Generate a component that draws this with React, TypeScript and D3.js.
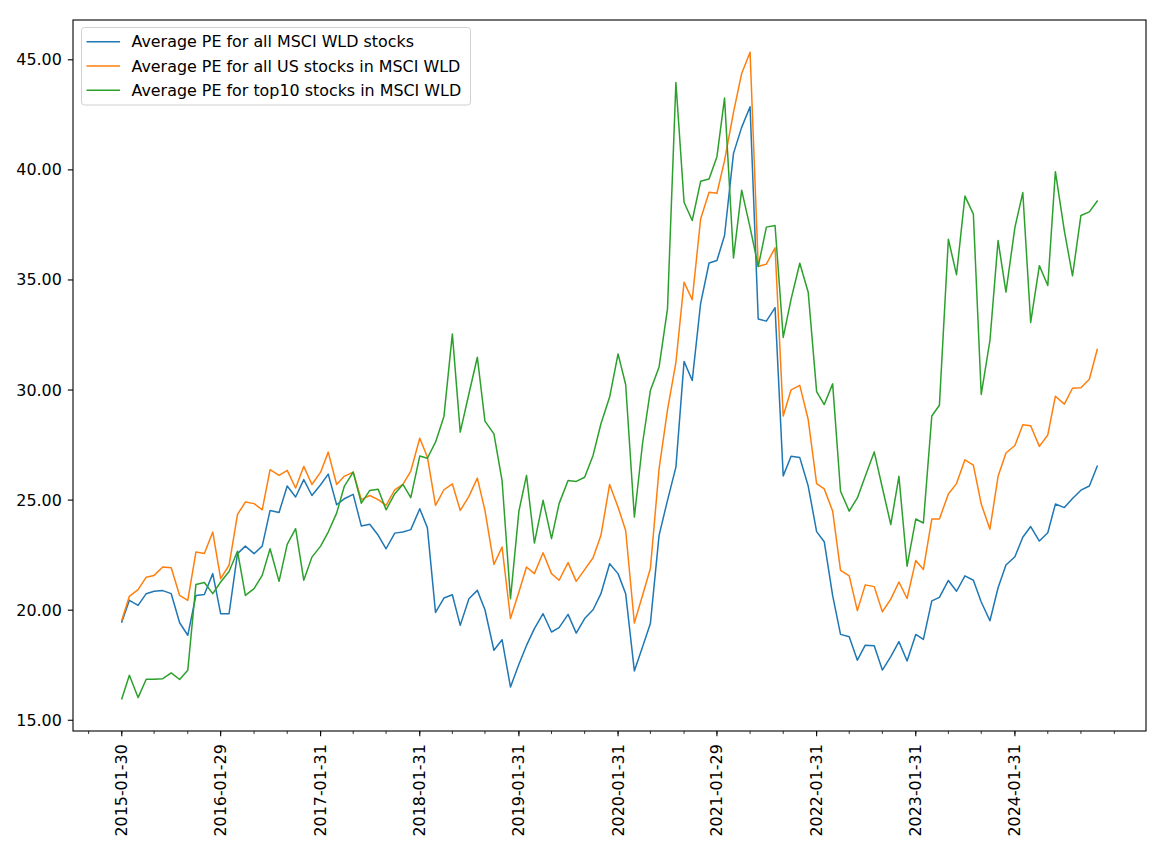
import React from "react";
import * as d3 from "d3";

const START_YEAR = 2015;
const N_MONTHS = 119;

const tickLabels = [
  "2015-01-30", "2016-01-29", "2017-01-31", "2018-01-31", "2019-01-31",
  "2020-01-31", "2021-01-29", "2022-01-31", "2023-01-31", "2024-01-31",
];

const yTicks = [15, 20, 25, 30, 35, 40, 45];

const seriesNames = [
  "Average PE for all MSCI WLD stocks",
  "Average PE for all US stocks in MSCI WLD",
  "Average PE for top10 stocks in MSCI WLD",
];

const seriesColors = ["#1f77b4", "#ff7f0e", "#2ca02c"];

const allStocks = [
  19.46, 20.45, 20.22, 20.75, 20.86, 20.89, 20.75, 19.43, 18.86, 20.67, 20.71, 21.66,
  19.84, 19.84, 22.57, 22.91, 22.57, 22.91, 24.53, 24.44, 25.64, 25.14, 25.93, 25.21,
  25.70, 26.18, 24.79, 25.06, 25.26, 23.82, 23.90, 23.40, 22.79, 23.50, 23.55, 23.66,
  24.61, 23.75, 19.90, 20.55, 20.70, 19.31, 20.52, 20.90, 20.02, 18.18, 18.66, 16.51,
  17.54, 18.40, 19.16, 19.84, 19.01, 19.21, 19.81, 18.96, 19.62, 20.02, 20.75, 22.11,
  21.66, 20.75, 17.24, 18.33, 19.39, 23.40, 24.99, 26.50, 31.30, 30.43, 33.94, 35.77,
  35.88, 37.02, 40.75, 41.93, 42.87, 33.23, 33.13, 33.74, 26.10, 26.99, 26.93, 25.64,
  23.57, 23.11, 20.66, 18.90, 18.79, 17.73, 18.41, 18.38, 17.28, 17.89, 18.57, 17.69,
  18.90, 18.67, 20.42, 20.58, 21.35, 20.86, 21.56, 21.36, 20.37, 19.52, 21.02, 22.05,
  22.43, 23.31, 23.80, 23.14, 23.52, 24.82, 24.66, 25.07, 25.45, 25.64, 26.54,
];

const usStocks = [
  19.54, 20.63, 20.93, 21.50, 21.58, 21.96, 21.93, 20.67, 20.45, 22.64, 22.57, 23.55,
  21.43, 22.04, 24.35, 24.91, 24.84, 24.56, 26.38, 26.12, 26.35, 25.55, 26.53, 25.71,
  26.27, 27.18, 25.71, 26.08, 26.27, 25.02, 25.21, 25.02, 24.76, 25.47, 25.71, 26.32,
  27.81, 26.96, 24.76, 25.47, 25.74, 24.53, 25.17, 26.00, 24.53, 22.08, 22.87, 19.62,
  20.83, 21.96, 21.66, 22.61, 21.66, 21.36, 22.16, 21.31, 21.84, 22.38, 23.40, 25.71,
  24.68, 23.62, 19.42, 20.67, 21.89, 26.42, 29.10, 31.26, 34.90, 34.10, 37.77, 38.98,
  38.94, 40.42, 42.61, 44.38, 45.34, 35.61, 35.72, 36.46, 28.82, 30.01, 30.21, 28.66,
  25.75, 25.51, 24.50, 21.81, 21.56, 19.98, 21.15, 21.07, 19.93, 20.50, 21.28, 20.53,
  22.26, 21.85, 24.14, 24.14, 25.28, 25.75, 26.83, 26.59, 24.82, 23.68, 26.08, 27.14,
  27.48, 28.42, 28.38, 27.44, 27.96, 29.72, 29.36, 30.08, 30.10, 30.49, 31.84,
];

const top10Stocks = [
  15.98, 17.04, 16.03, 16.86, 16.86, 16.89, 17.15, 16.85, 17.27, 21.17, 21.26, 20.75,
  21.28, 21.76, 22.68, 20.67, 20.98, 21.58, 22.79, 21.31, 22.99, 23.70, 21.36, 22.41,
  22.91, 23.55, 24.41, 25.62, 26.27, 24.86, 25.44, 25.49, 24.56, 25.29, 25.71, 25.11,
  27.00, 26.90, 27.63, 28.80, 32.55, 28.09, 29.83, 31.49, 28.59, 28.01, 25.89, 20.52,
  24.50, 26.12, 23.05, 24.99, 23.25, 24.84, 25.89, 25.85, 26.04, 27.03, 28.47, 29.68,
  31.64, 30.25, 24.23, 27.56, 29.98, 31.05, 33.69, 43.97, 38.53, 37.70, 39.48, 39.59,
  40.60, 43.26, 36.00, 39.08, 37.39, 35.61, 37.40, 37.47, 32.39, 34.13, 35.76, 34.44,
  29.93, 29.34, 30.28, 25.40, 24.50, 25.10, 26.08, 27.19, 25.56, 23.89, 26.08, 22.00,
  24.14, 23.96, 28.82, 29.31, 36.85, 35.24, 38.81, 37.99, 29.80, 32.25, 36.79, 34.45,
  37.39, 38.97, 33.07, 35.65, 34.75, 39.92, 37.23, 35.19, 37.93, 38.09, 38.58,
];

const seriesValues = [allStocks, usStocks, top10Stocks];

// last business day of the month, offset m months from January of START_YEAR
function monthEnd(m: number): Date {
  const d = new Date(START_YEAR, m + 1, 0);
  const wd = d.getDay();
  if (wd === 6) d.setDate(d.getDate() - 1);
  if (wd === 0) d.setDate(d.getDate() - 2);
  return d;
}

const dates = d3.range(N_MONTHS).map(monthEnd);

const W = 1160;
const H = 849;
const M = { left: 73, right: 1146, top: 20, bottom: 731 };
const FONT = "'DejaVu Sans', sans-serif";
const FS = 15.9;
const TICK = 5.2;
const PAD = 6;

export default function App() {
  const t0 = +dates[0];
  const t1 = +dates[dates.length - 1];
  const xPad = (t1 - t0) * 0.05;
  const x = d3
    .scaleTime()
    .domain([new Date(t0 - xPad), new Date(t1 + xPad)])
    .range([M.left, M.right]);

  const all = seriesValues.flat();
  const [yMin, yMax] = d3.extent(all) as [number, number];
  const yPad = (yMax - yMin) * 0.05;
  const y = d3.scaleLinear().domain([yMin - yPad, yMax + yPad]).range([M.bottom, M.top]);

  const line = d3
    .line<number>()
    .x((_, i) => x(dates[i]))
    .y((v) => y(v));

  const majorDates = tickLabels.map((s) => d3.timeParse("%Y-%m-%d")(s) as Date);
  const minorDates = d3.range(-4, 124, 4).map(monthEnd).filter((d) => {
    const px = x(d);
    return px >= M.left && px <= M.right;
  });

  const legendX = 81.5;
  const legendY = 27.5;
  const legendW = 389;
  const legendH = 77.5;

  return (
    <svg
      width={W}
      height={H}
      style={{ position: "absolute", left: 0, top: 0, background: "#fff" }}
      fontFamily={FONT}
    >
      <rect x={0} y={0} width={W} height={H} fill="#fff" />
      {seriesValues.map((vals, k) => (
        <path
          key={k}
          d={line(vals) || ""}
          fill="none"
          stroke={seriesColors[k]}
          strokeWidth={1.5}
          strokeLinejoin="round"
          strokeLinecap="square"
        />
      ))}
      {/* spines */}
      <rect
        x={M.left}
        y={M.top}
        width={M.right - M.left}
        height={M.bottom - M.top}
        fill="none"
        stroke="#000"
        strokeWidth={1.1}
      />
      {/* y ticks */}
      {yTicks.map((v) => (
        <g key={v}>
          <line x1={M.left - TICK} x2={M.left} y1={y(v)} y2={y(v)} stroke="#000" strokeWidth={1.1} />
          <text
            x={M.left - TICK - PAD}
            y={y(v)}
            textAnchor="end"
            dominantBaseline="central"
            fontSize={FS}
            fill="#000"
          >
            {v.toFixed(2)}
          </text>
        </g>
      ))}
      {/* x minor ticks */}
      {minorDates.map((d, i) => (
        <line
          key={"m" + i}
          x1={x(d)}
          x2={x(d)}
          y1={M.bottom}
          y2={M.bottom + 3}
          stroke="#000"
          strokeWidth={0.8}
        />
      ))}
      {/* x major ticks */}
      {majorDates.map((d, i) => (
        <g key={"M" + i}>
          <line
            x1={x(d)}
            x2={x(d)}
            y1={M.bottom}
            y2={M.bottom + TICK}
            stroke="#000"
            strokeWidth={1.1}
          />
          <text
            transform={`translate(${x(d)},${M.bottom + TICK + PAD + 2}) rotate(-90)`}
            textAnchor="end"
            dominantBaseline="central"
            fontSize={FS}
            fill="#000"
          >
            {tickLabels[i]}
          </text>
        </g>
      ))}
      {/* legend */}
      <rect
        x={legendX}
        y={legendY}
        width={legendW}
        height={legendH}
        rx={3}
        fill="#fff"
        fillOpacity={0.8}
        stroke="#d0d0d0"
        strokeWidth={1}
      />
      {seriesNames.map((name, k) => {
        const cy = 41.8 + k * 24.2;
        return (
          <g key={name}>
            <line x1={86.5} x2={120} y1={cy} y2={cy} stroke={seriesColors[k]} strokeWidth={1.5} />
            <text x={131.5} y={cy} dominantBaseline="central" fontSize={FS} fill="#000">
              {name}
            </text>
          </g>
        );
      })}
    </svg>
  );
}
